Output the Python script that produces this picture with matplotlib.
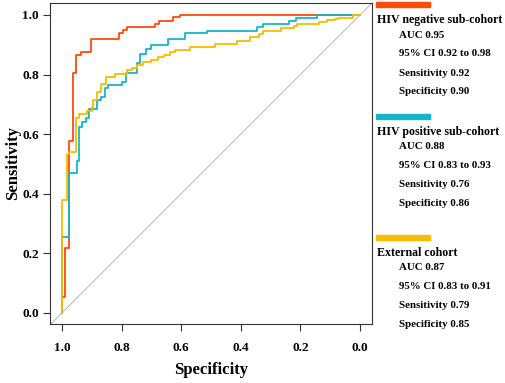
import numpy as np
import matplotlib.pyplot as plt
from matplotlib.patches import Rectangle

plt.rcParams['font.family'] = ['Liberation Serif', 'DejaVu Serif']
plt.rcParams['font.weight'] = 'bold'

# ROC step points: (specificity, sensitivity)
neg_spec = [1.0, 1.0, 0.989, 0.989, 0.977, 0.977, 0.964, 0.964, 0.952, 0.952, 0.936, 0.936,
            0.903, 0.903, 0.808, 0.808, 0.794, 0.794, 0.781, 0.781, 0.688, 0.688, 0.673, 0.673,
            0.626, 0.626, 0.604, 0.604, 0.0]
neg_sens = [0.0, 0.053, 0.053, 0.217, 0.217, 0.577, 0.577, 0.804, 0.804, 0.866, 0.866, 0.877,
            0.877, 0.918, 0.918, 0.938, 0.938, 0.950, 0.950, 0.959, 0.959, 0.970, 0.970, 0.979,
            0.979, 0.992, 0.992, 1.0, 1.0]

pos_spec = [1.0, 1.0, 0.977, 0.977, 0.951, 0.951, 0.942, 0.942, 0.931, 0.931, 0.919, 0.919,
            0.908, 0.908, 0.884, 0.884, 0.869, 0.869, 0.856, 0.856, 0.845, 0.845, 0.798, 0.798,
            0.785, 0.785, 0.749, 0.749, 0.738, 0.738, 0.719, 0.719, 0.702, 0.702, 0.645, 0.645,
            0.587, 0.587, 0.514, 0.514, 0.345, 0.345, 0.324, 0.324, 0.240, 0.240, 0.215, 0.215,
            0.145, 0.145, 0.0]
pos_sens = [0.0, 0.256, 0.256, 0.469, 0.469, 0.510, 0.510, 0.623, 0.623, 0.640, 0.640, 0.653,
            0.653, 0.685, 0.685, 0.715, 0.715, 0.726, 0.726, 0.754, 0.754, 0.765, 0.765, 0.776,
            0.776, 0.806, 0.806, 0.838, 0.838, 0.869, 0.869, 0.886, 0.886, 0.899, 0.899, 0.918,
            0.918, 0.938, 0.938, 0.947, 0.947, 0.958, 0.958, 0.969, 0.969, 0.978, 0.978, 0.989,
            0.989, 1.0, 1.0]

ext_spec = [1.0, 1.0, 0.984, 0.984, 0.975, 0.975, 0.953, 0.953, 0.943, 0.943, 0.915, 0.915,
            0.900, 0.900, 0.895, 0.895, 0.884, 0.884, 0.869, 0.869, 0.852, 0.852, 0.822, 0.822,
            0.781, 0.781, 0.766, 0.766, 0.749, 0.749, 0.729, 0.729, 0.702, 0.702, 0.677, 0.677,
            0.657, 0.657, 0.638, 0.638, 0.621, 0.621, 0.570, 0.570, 0.561, 0.561, 0.487, 0.487,
            0.412, 0.412, 0.370, 0.370, 0.339, 0.339, 0.327, 0.327, 0.265, 0.265, 0.220, 0.220,
            0.212, 0.212, 0.137, 0.137, 0.112, 0.112, 0.084, 0.084, 0.073, 0.073, 0.023, 0.023, 0.0]
ext_sens = [0.0, 0.379, 0.379, 0.532, 0.532, 0.540, 0.540, 0.653, 0.653, 0.667, 0.667, 0.676,
            0.676, 0.690, 0.690, 0.715, 0.715, 0.743, 0.743, 0.767, 0.767, 0.793, 0.793, 0.801,
            0.801, 0.815, 0.815, 0.822, 0.822, 0.832, 0.832, 0.841, 0.841, 0.849, 0.849, 0.858,
            0.858, 0.866, 0.866, 0.875, 0.875, 0.883, 0.883, 0.891, 0.891, 0.894, 0.894, 0.903,
            0.903, 0.914, 0.914, 0.927, 0.927, 0.936, 0.936, 0.947, 0.947, 0.955, 0.955, 0.963,
            0.963, 0.969, 0.969, 0.975, 0.975, 0.982, 0.982, 0.987, 0.987, 0.991, 0.991, 1.0, 1.0]

names = ["HIV negative sub-cohort", "HIV positive sub-cohort", "External cohort"]
colors = ["#FF4A0A", "#12B6C8", "#F5BC00"]
auc = ["0.95", "0.88", "0.87"]
ci = ["0.92 to 0.98", "0.83 to 0.93", "0.83 to 0.91"]
sens_txt = ["0.92", "0.76", "0.79"]
spec_txt = ["0.90", "0.86", "0.85"]

W, H = 505, 383
fig = plt.figure(figsize=(W / 100, H / 100), dpi=100)
ax = fig.add_axes([50 / W, 1 - 324 / H, 322 / W, 321 / H])

ax.plot([1.04, -0.04], [-0.04, 1.04], color="#b5b5b5", lw=0.7)
curves = [(neg_spec, neg_sens), (pos_spec, pos_sens), (ext_spec, ext_sens)]
for (sx, sy), c in zip(curves, colors):
    ax.plot(sx, sy, color=c, lw=1.3)

ax.set_xlim(1.04, -0.04)
ax.set_ylim(-0.037, 1.04)
ticks = [0.0, 0.2, 0.4, 0.6, 0.8, 1.0]
ax.set_xticks(ticks)
ax.set_yticks(ticks)
ax.set_xticklabels([f"{t:.1f}" for t in ticks])
ax.set_yticklabels([f"{t:.1f}" for t in ticks])
ax.tick_params(length=5, width=0.8, color="#333333", labelsize=9.5, pad=3)
ax.tick_params(axis="x", pad=8)
for s in ax.spines.values():
    s.set_color("#333333")
    s.set_linewidth(0.8)
ax.set_xlabel("Specificity", fontsize=12, fontweight="bold", labelpad=6)
ax.set_ylabel("Sensitivity", fontsize=12, fontweight="bold", labelpad=1)

# legend block on the right
tops = [2, 113.5, 234.5]
for i in range(3):
    y0 = tops[i]
    fig.patches.append(Rectangle((376 / W, 1 - (y0 + 5.3) / H), 54 / W, 5.3 / H,
                                 transform=fig.transFigure, color=colors[i]))
    fig.text(377 / W, 1 - (y0 + 18) / H, names[i], fontsize=8.6, fontweight="bold",
             va="center", ha="left")
    lines = [f"AUC {auc[i]}", f"95% CI {ci[i]}", f"Sensitivity {sens_txt[i]}",
             f"Specificity {spec_txt[i]}"]
    for j, t in enumerate(lines):
        fig.text(399 / W, 1 - (y0 + 33 + 19 * j) / H, t, fontsize=7.8,
                 fontweight="bold", va="center", ha="left")

fig.savefig("out.png", dpi=100)
